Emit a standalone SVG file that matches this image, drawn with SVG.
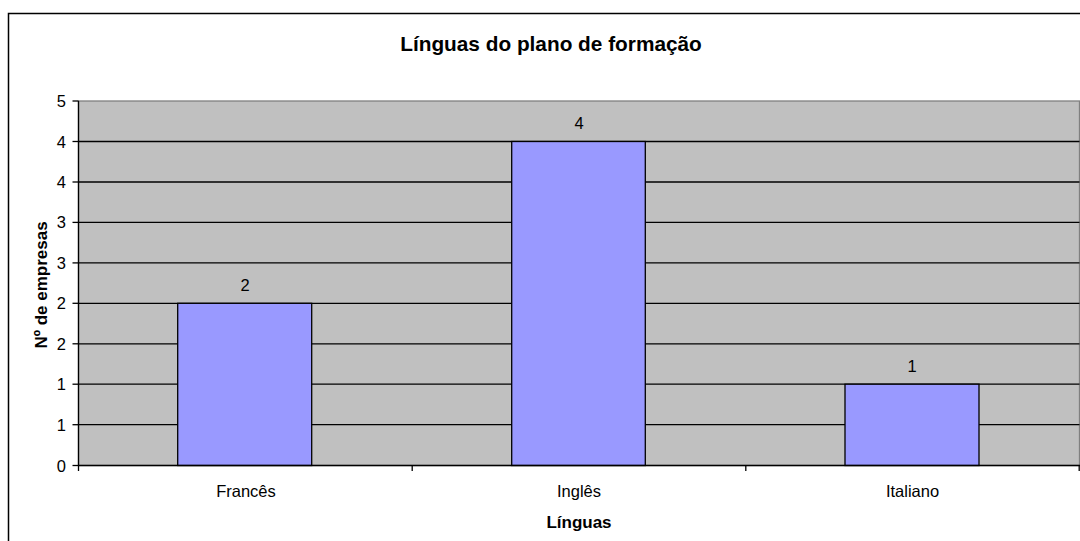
<svg xmlns="http://www.w3.org/2000/svg" width="1080" height="541" viewBox="0 0 1080 541">
<style>
.t{font-family:"Liberation Sans",Arial,sans-serif;fill:#000}
.lab{font-size:16.5px}
.ttl{font-size:20.8px;font-weight:bold}
.ax{font-size:17px;font-weight:bold}
.grid{stroke:#000;stroke-width:1.3}
.bar{fill:#9999FF;stroke:#000;stroke-width:1.3}
</style>
<rect x="0" y="0" width="1080" height="541" fill="#fff"/>
<rect x="8.5" y="13.5" width="1090" height="540" fill="#fff" stroke="#000" stroke-width="1.5"/>
<text class="t ttl" x="551" y="51" text-anchor="middle">Línguas do plano de formação</text>
<g id="plot">
<rect x="78.5" y="101" width="1001" height="364.5" fill="#C0C0C0" stroke="#808080" stroke-width="1.3"/>
<g id="gridlines">
<line class="grid" x1="78.5" y1="141.5" x2="1079.5" y2="141.5"/>
<line class="grid" x1="78.5" y1="182" x2="1079.5" y2="182"/>
<line class="grid" x1="78.5" y1="222.4" x2="1079.5" y2="222.4"/>
<line class="grid" x1="78.5" y1="262.9" x2="1079.5" y2="262.9"/>
<line class="grid" x1="78.5" y1="303.3" x2="1079.5" y2="303.3"/>
<line class="grid" x1="78.5" y1="343.8" x2="1079.5" y2="343.8"/>
<line class="grid" x1="78.5" y1="384.2" x2="1079.5" y2="384.2"/>
<line class="grid" x1="78.5" y1="424.7" x2="1079.5" y2="424.7"/>
</g>
</g>
<g id="bar-frances">
<rect class="bar" x="177.7" y="303.3" width="134" height="162.2"/>
<text class="t lab" x="245" y="291" text-anchor="middle">2</text>
</g>
<g id="bar-ingles">
<rect class="bar" x="511.7" y="141.5" width="133.6" height="324"/>
<text class="t lab" x="579" y="129" text-anchor="middle">4</text>
</g>
<g id="bar-italiano">
<rect class="bar" x="845" y="384.2" width="134" height="81.3"/>
<text class="t lab" x="912" y="372" text-anchor="middle">1</text>
</g>
<g id="axes" stroke="#000" stroke-width="1.3">
<line x1="78.5" y1="101" x2="78.5" y2="466"/>
<line x1="78" y1="465.5" x2="1080" y2="465.5"/>
<line x1="72.5" y1="101" x2="78.5" y2="101"/>
<line x1="72.5" y1="141.5" x2="78.5" y2="141.5"/>
<line x1="72.5" y1="182" x2="78.5" y2="182"/>
<line x1="72.5" y1="222.4" x2="78.5" y2="222.4"/>
<line x1="72.5" y1="262.9" x2="78.5" y2="262.9"/>
<line x1="72.5" y1="303.3" x2="78.5" y2="303.3"/>
<line x1="72.5" y1="343.8" x2="78.5" y2="343.8"/>
<line x1="72.5" y1="384.2" x2="78.5" y2="384.2"/>
<line x1="72.5" y1="424.7" x2="78.5" y2="424.7"/>
<line x1="72.5" y1="465.5" x2="78.5" y2="465.5"/>
<line x1="78.5" y1="465.5" x2="78.5" y2="471"/>
<line x1="412.2" y1="465.5" x2="412.2" y2="471"/>
<line x1="745.8" y1="465.5" x2="745.8" y2="471"/>
<line x1="1079.2" y1="465.5" x2="1079.2" y2="471"/>
</g>
<g id="y-labels" class="t lab" text-anchor="end">
<text x="66" y="107">5</text>
<text x="66" y="147.5">4</text>
<text x="66" y="188">4</text>
<text x="66" y="228.4">3</text>
<text x="66" y="268.9">3</text>
<text x="66" y="309.3">2</text>
<text x="66" y="349.8">2</text>
<text x="66" y="390.2">1</text>
<text x="66" y="430.7">1</text>
<text x="66" y="471.5">0</text>
</g>
<g id="x-labels" class="t lab" text-anchor="middle">
<text x="246" y="497">Francês</text>
<text x="579" y="497">Inglês</text>
<text x="912.5" y="497">Italiano</text>
</g>
<text class="t ax" x="579" y="527.5" text-anchor="middle">Línguas</text>
<text class="t ax" transform="translate(47,285) rotate(-90)" text-anchor="middle">Nº de empresas</text>
</svg>
